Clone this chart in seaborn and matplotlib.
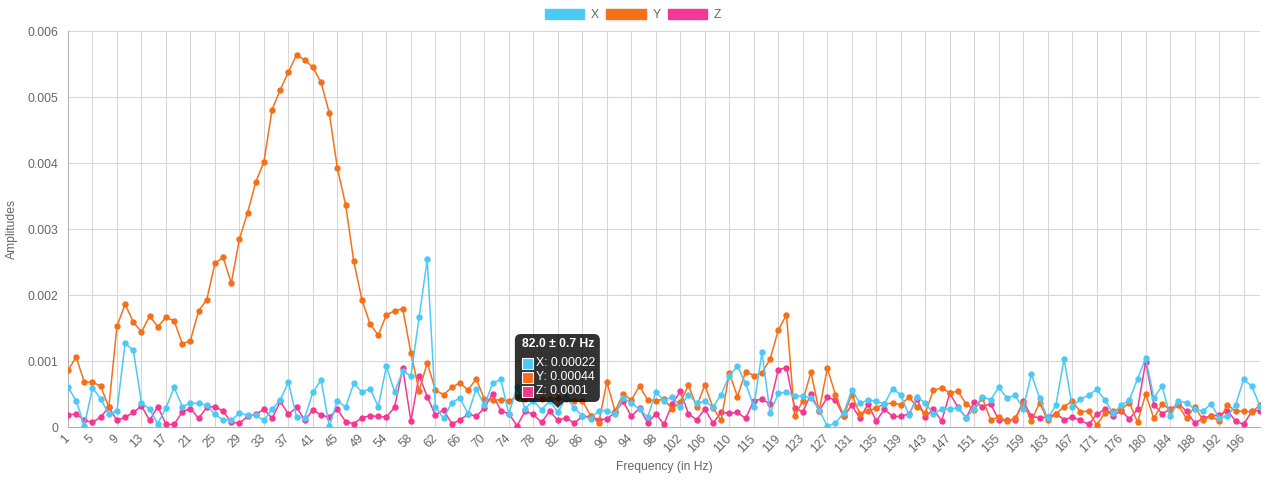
import matplotlib
matplotlib.use("Agg")
import matplotlib.pyplot as plt
from matplotlib.patches import Patch, FancyBboxPatch, Rectangle, Polygon
from matplotlib.transforms import IdentityTransform
import numpy as np
import pandas as pd
import seaborn as sns

# x tick labels (every third frequency bin, Hz)
tick_labels = ["1", "5", "9", "13", "17", "21", "25", "29", "33", "37", "41", "45", "49",
               "54", "58", "62", "66", "70", "74", "78", "82", "86", "90", "94", "98",
               "102", "106", "110", "115", "119", "123", "127", "131", "135", "139", "143",
               "147", "151", "155", "159", "163", "167", "171", "176", "180", "184", "188",
               "192", "196"]

x_amp = [0.00060, 0.00040, 0.00002, 0.00059, 0.00043, 0.00019, 0.00025, 0.00127, 0.00116, 0.00037,
         0.00027, 0.00005, 0.00029, 0.00060, 0.00031, 0.00036, 0.00036, 0.00033, 0.00019, 0.00011,
         0.00010, 0.00021, 0.00018, 0.00018, 0.00010, 0.00027, 0.00041, 0.00068, 0.00015, 0.00014,
         0.00053, 0.00071, 0.00001, 0.00040, 0.00030, 0.00066, 0.00053, 0.00058, 0.00031, 0.00092,
         0.00053, 0.00085, 0.00077, 0.00166, 0.00254, 0.00031, 0.00013, 0.00037, 0.00044, 0.00020,
         0.00058, 0.00033, 0.00066, 0.00072, 0.00020, 0.00060, 0.00028, 0.00040, 0.00026, 0.00040,
         0.00022, 0.00045, 0.00029, 0.00017, 0.00012, 0.00025, 0.00025, 0.00019, 0.00044, 0.00036,
         0.00027, 0.00015, 0.00053, 0.00040, 0.00046, 0.00031, 0.00049, 0.00036, 0.00039, 0.00030,
         0.00049, 0.00078, 0.00092, 0.00066, 0.00031, 0.00113, 0.00021, 0.00051, 0.00053, 0.00047,
         0.00047, 0.00044, 0.00026, 0.00001, 0.00006, 0.00021, 0.00056, 0.00036, 0.00041, 0.00039,
         0.00035, 0.00058, 0.00049, 0.00018, 0.00046, 0.00036, 0.00020, 0.00027, 0.00027, 0.00029,
         0.00014, 0.00028, 0.00046, 0.00041, 0.00060, 0.00044, 0.00048, 0.00028, 0.00080, 0.00044,
         0.00013, 0.00033, 0.00103, 0.00031, 0.00042, 0.00048, 0.00057, 0.00041, 0.00021, 0.00033,
         0.00041, 0.00073, 0.00104, 0.00044, 0.00062, 0.00016, 0.00039, 0.00037, 0.00027, 0.00024,
         0.00035, 0.00014, 0.00016, 0.00033, 0.00072, 0.00062, 0.00031]

y_amp = [0.00086, 0.00106, 0.00068, 0.00068, 0.00062, 0.00030, 0.00153, 0.00186, 0.00159, 0.00144,
         0.00168, 0.00152, 0.00166, 0.00161, 0.00126, 0.00131, 0.00176, 0.00193, 0.00248, 0.00257,
         0.00218, 0.00285, 0.00325, 0.00371, 0.00402, 0.00481, 0.00511, 0.00538, 0.00564, 0.00556,
         0.00545, 0.00522, 0.00476, 0.00392, 0.00337, 0.00251, 0.00193, 0.00156, 0.00139, 0.00170,
         0.00176, 0.00179, 0.00112, 0.00055, 0.00097, 0.00056, 0.00049, 0.00060, 0.00067, 0.00056,
         0.00073, 0.00042, 0.00041, 0.00041, 0.00040, 0.00045, 0.00043, 0.00042, 0.00042, 0.00042,
         0.00044, 0.00042, 0.00040, 0.00040, 0.00017, 0.00006, 0.00068, 0.00024, 0.00050, 0.00041,
         0.00062, 0.00041, 0.00040, 0.00042, 0.00027, 0.00038, 0.00063, 0.00031, 0.00064, 0.00029,
         0.00010, 0.00082, 0.00046, 0.00084, 0.00078, 0.00082, 0.00103, 0.00147, 0.00170, 0.00016,
         0.00040, 0.00083, 0.00024, 0.00089, 0.00049, 0.00017, 0.00049, 0.00020, 0.00024, 0.00029,
         0.00035, 0.00036, 0.00034, 0.00045, 0.00031, 0.00021, 0.00056, 0.00059, 0.00052, 0.00054,
         0.00035, 0.00026, 0.00044, 0.00011, 0.00015, 0.00009, 0.00013, 0.00036, 0.00009, 0.00037,
         0.00010, 0.00020, 0.00031, 0.00039, 0.00023, 0.00024, 0.00003, 0.00021, 0.00025, 0.00026,
         0.00037, 0.00007, 0.00050, 0.00013, 0.00035, 0.00026, 0.00033, 0.00013, 0.00031, 0.00011,
         0.00016, 0.00009, 0.00034, 0.00024, 0.00024, 0.00023, 0.00033]

z_amp = [0.00018, 0.00020, 0.00010, 0.00007, 0.00015, 0.00030, 0.00010, 0.00015, 0.00022, 0.00032,
         0.00010, 0.00031, 0.00004, 0.00004, 0.00023, 0.00028, 0.00013, 0.00030, 0.00031, 0.00024,
         0.00007, 0.00006, 0.00016, 0.00019, 0.00027, 0.00013, 0.00039, 0.00019, 0.00030, 0.00010,
         0.00026, 0.00018, 0.00015, 0.00027, 0.00008, 0.00005, 0.00014, 0.00017, 0.00016, 0.00015,
         0.00030, 0.00089, 0.00009, 0.00078, 0.00046, 0.00018, 0.00026, 0.00005, 0.00010, 0.00020,
         0.00016, 0.00029, 0.00050, 0.00025, 0.00020, 0.00002, 0.00024, 0.00019, 0.00007, 0.00024,
         0.00010, 0.00014, 0.00006, 0.00016, 0.00016, 0.00011, 0.00012, 0.00022, 0.00039, 0.00016,
         0.00029, 0.00006, 0.00020, 0.00004, 0.00035, 0.00054, 0.00020, 0.00011, 0.00027, 0.00006,
         0.00022, 0.00021, 0.00022, 0.00013, 0.00040, 0.00042, 0.00035, 0.00087, 0.00090, 0.00029,
         0.00023, 0.00050, 0.00024, 0.00045, 0.00041, 0.00016, 0.00033, 0.00013, 0.00035, 0.00009,
         0.00027, 0.00016, 0.00016, 0.00020, 0.00042, 0.00015, 0.00027, 0.00009, 0.00051, 0.00030,
         0.00014, 0.00038, 0.00031, 0.00035, 0.00011, 0.00010, 0.00011, 0.00039, 0.00016, 0.00014,
         0.00015, 0.00020, 0.00011, 0.00015, 0.00010, 0.00004, 0.00019, 0.00027, 0.00017, 0.00025,
         0.00012, 0.00027, 0.00099, 0.00034, 0.00020, 0.00027, 0.00035, 0.00024, 0.00006, 0.00013,
         0.00017, 0.00018, 0.00025, 0.00009, 0.00004, 0.00024, 0.00025]

series_names = ["X", "Y", "Z"]
series_colors = {"X": "#4dc9f6", "Y": "#f67019", "Z": "#f53794"}
tooltip_title = "82.0 \u00b1 0.7 Hz"
tooltip_index = 60

sns.set_style("white")
plt.rcParams["font.family"] = ["Liberation Sans", "DejaVu Sans"]
TXT = "#666666"
GRID = "#d6d6d6"
FS = 8.7

df = pd.DataFrame({"idx": np.arange(len(x_amp)), "X": x_amp, "Y": y_amp, "Z": z_amp})
long_df = df.melt(id_vars="idx", var_name="axis", value_name="amp")

W, H = 1266, 480
fig = plt.figure(figsize=(W / 100, H / 100), dpi=100)
ax = fig.add_axes([68 / W, 53 / H, (1260 - 68) / W, (427 - 31) / H])

# draw Z first so X ends up on top
for name in ["Z", "Y", "X"]:
    sns.lineplot(data=long_df[long_df["axis"] == name], x="idx", y="amp",
                 color=series_colors[name], marker="o", markersize=4.6,
                 markeredgewidth=0, linewidth=1.1, estimator=None,
                 legend=False, ax=ax, zorder=3)

ax.set_xlim(0, len(x_amp) - 1)
ax.set_ylim(0, 0.006)
ax.set_xticks(np.arange(len(tick_labels)) * 3)
ax.set_xticklabels(tick_labels, rotation=45, ha="right", va="center",
                   rotation_mode="anchor")
yt = np.arange(7) * 0.001
ax.set_yticks(yt)
ax.set_yticklabels([f"{v:g}" for v in yt])
ax.tick_params(axis="x", length=4, width=0.75, color=GRID, pad=3,
               labelsize=FS, labelcolor=TXT)
ax.tick_params(axis="y", length=4, width=0.75, color=GRID, pad=3,
               labelsize=FS, labelcolor=TXT)
ax.grid(True, color=GRID, linewidth=0.75)
ax.set_axisbelow(True)
for side in ["top", "right"]:
    ax.spines[side].set_visible(False)
for side in ["left", "bottom"]:
    ax.spines[side].set_color("#b0b0b0")
    ax.spines[side].set_linewidth(0.75)

ax.set_xlabel("Frequency (in Hz)", fontsize=FS, color=TXT)
ax.xaxis.label.set_va("center")
ax.xaxis.set_label_coords(0.5, (427 - 467) / 396)
ax.set_ylabel("Amplitudes", fontsize=FS, color=TXT)
ax.yaxis.label.set_va("center")
ax.yaxis.set_label_coords((12 - 68) / 1192, 0.5)

handles = [Patch(facecolor=series_colors[n], edgecolor=series_colors[n], label=n)
           for n in series_names]
fig.legend(handles=handles, loc="center", bbox_to_anchor=(0.5, 1 - 15 / H), ncol=3,
           frameon=False, handlelength=3.25, handleheight=0.96, handletextpad=0.55,
           columnspacing=0.6, fontsize=FS, labelcolor=TXT)

# hover tooltip (pixel coordinates, origin bottom-left)
px = IdentityTransform()
cx = ax.transData.transform((tooltip_index, 0))[0]
box_l, box_r, box_t, box_b = cx - 43, cx + 42, H - 334, H - 402
fig.add_artist(FancyBboxPatch((box_l, box_b), box_r - box_l, box_t - box_b,
                              boxstyle="round,pad=0,rounding_size=6", transform=px,
                              facecolor=(0, 0, 0, 0.8), edgecolor="none", zorder=10))
fig.add_artist(Polygon([(cx - 6, box_b), (cx + 6, box_b), (cx, box_b - 6)], closed=True,
                       transform=px, facecolor=(0, 0, 0, 0.8), edgecolor="none", zorder=10))
fig.text(box_l + 7, H - 344, tooltip_title, transform=px, color="white",
         fontsize=FS, fontweight="bold", ha="left", va="center", zorder=11)
values = {"X": x_amp[tooltip_index], "Y": y_amp[tooltip_index], "Z": z_amp[tooltip_index]}
for k, n in enumerate(series_names):
    yc = H - (363.5 + 14 * k)
    fig.add_artist(Rectangle((box_l + 7, yc - 5.5), 11, 11, transform=px,
                             facecolor=series_colors[n], edgecolor="white",
                             linewidth=0.8, zorder=11))
    fig.text(box_l + 21, yc, f"{n}: {values[n]:g}", transform=px, color="white",
             fontsize=FS, ha="left", va="center", zorder=11)

fig.savefig("out.png", dpi=100)
